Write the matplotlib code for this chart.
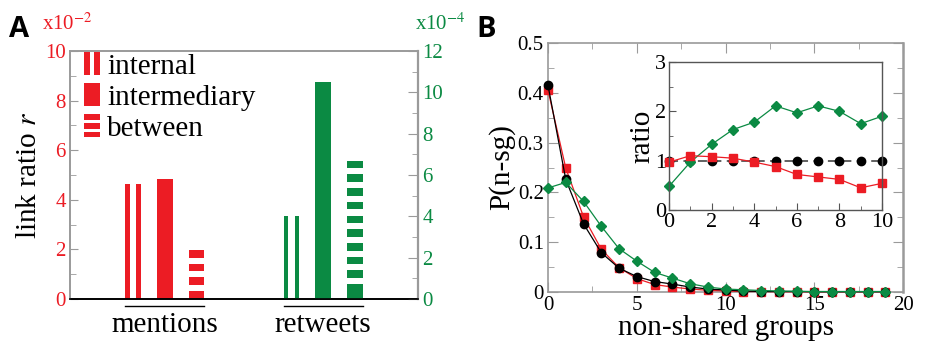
import numpy as np
import matplotlib
matplotlib.use('Agg')
import matplotlib.pyplot as plt
from matplotlib.patches import Rectangle
from matplotlib.legend_handler import HandlerBase
from matplotlib.ticker import MultipleLocator

plt.rcParams['font.family'] = ['Liberation Serif', 'DejaVu Serif']
plt.rcParams['mathtext.fontset'] = 'stix'

RED = '#ec1c24'
GREEN = '#0b8a43'
GRAY = '#9a9a9a'

# panel A: link ratio r
groups = ['mentions', 'retweets']
link_types = ['internal', 'intermediary', 'between']
styles = ['vert', 'solid', 'horiz']
mentions_r = [4.65, 4.83, 1.98]    # x10^-2
retweets_r = [4.02, 10.5, 6.69]    # x10^-4

# panel B: P(n-sg)
nsg = np.arange(20)
p_black = [0.415, 0.226, 0.137, 0.079, 0.048, 0.031, 0.021, 0.016, 0.010, 0.006,
           0.004, 0.002, 0.001, 0.001, 0.001, 0.0005, 0.0005, 0.0005, 0.0005, 0.0005]
p_red = [0.405, 0.249, 0.151, 0.086, 0.049, 0.027, 0.015, 0.010, 0.006, 0.0035,
         0.002, 0.001, 0.001, 0.0005, 0.0005, 0.0005, 0.0005, 0.0005, 0.0005, 0.0005]
p_green = [0.209, 0.220, 0.182, 0.132, 0.087, 0.062, 0.0395, 0.028, 0.0167, 0.010,
           0.006, 0.0045, 0.003, 0.002, 0.0015, 0.001, 0.001, 0.001, 0.001, 0.001]

# inset: ratio
ratio_x = np.arange(11)
ratio_black = [1.0] * 11
ratio_red = [0.97, 1.10, 1.08, 1.05, 0.97, 0.88, 0.72, 0.67, 0.62, 0.45, 0.54]
ratio_green = [0.48, 0.97, 1.33, 1.63, 1.78, 2.11, 1.97, 2.11, 2.00, 1.75, 1.90]


def draw_bar(ax, x, h, style, color, w=0.5):
    if style == 'solid':
        ax.bar(x, h, w, color=color, lw=0)
    elif style == 'vert':
        ax.bar([x - 0.35 * w, x + 0.35 * w], [h, h], 0.3 * w, color=color, lw=0)
    else:
        lo, hi = ax.get_ylim()
        period = 0.0552 * (hi - lo)
        top = h
        while top > 0:
            if top < 1.2 * period:
                ax.bar(x, top, w, color=color, lw=0)
                break
            ax.bar(x, 0.56 * period, w, bottom=top - 0.56 * period, color=color, lw=0)
            top -= period


class StripeHandler(HandlerBase):
    def __init__(self, style):
        super().__init__()
        self.style = style

    def create_artists(self, legend, orig_handle, xdescent, ydescent,
                       width, height, fontsize, trans):
        x0, y0 = -xdescent, -ydescent
        color = orig_handle.get_facecolor()
        if self.style == 'solid':
            pieces = [(x0, y0, width, height)]
        elif self.style == 'vert':
            s = 0.38 * width
            pieces = [(x0, y0, s, height), (x0 + width - s, y0, s, height)]
        else:
            s = 0.24 * height
            pieces = [(x0, y0 + k * (height - s) / 2, width, s) for k in range(3)]
        return [Rectangle((a, b), c, d, facecolor=color, edgecolor='none',
                          transform=trans) for a, b, c, d in pieces]


fig = plt.figure(figsize=(9.26, 3.48), dpi=100)

# ---------------- panel A
ax1 = fig.add_axes([0.0756, 0.1408, 0.3758, 0.7126])
ax1.set_xlim(0, 11)
ax1.set_ylim(0, 10)
ax2 = ax1.twinx()
ax2.set_ylim(0, 12)

pos_m = [2, 3, 4]
pos_r = [7, 8, 9]
for x, h, s in zip(pos_m, mentions_r, styles):
    draw_bar(ax1, x, h, s, RED)
for x, h, s in zip(pos_r, retweets_r, styles):
    draw_bar(ax2, x, h, s, GREEN)

for ax in (ax1, ax2):
    for side in ('left', 'top', 'right'):
        ax.spines[side].set_color(GRAY)
        ax.spines[side].set_linewidth(1.2)
    ax.spines['bottom'].set_color('k')
    ax.spines['bottom'].set_linewidth(1.2)
ax2.spines['right'].set_linewidth(1.6)

ax1.yaxis.set_major_locator(MultipleLocator(2))
ax1.yaxis.set_minor_locator(MultipleLocator(1))
ax1.tick_params(axis='y', which='both', direction='in', color=GRAY,
                labelcolor=RED, labelsize=15, pad=3, right=False)
ax1.tick_params(axis='y', which='major', length=6)
ax1.tick_params(axis='y', which='minor', length=4)
ax2.yaxis.set_major_locator(MultipleLocator(2))
ax2.yaxis.set_minor_locator(MultipleLocator(1))
ax2.tick_params(axis='y', which='both', direction='in', color=GRAY,
                labelcolor=GREEN, labelsize=15, pad=3)
ax2.tick_params(axis='y', which='major', length=7)
ax2.tick_params(axis='y', which='minor', length=4)

ax1.set_xticks([np.mean(pos_m), np.mean(pos_r)], groups)
ax1.tick_params(axis='x', length=0, labelsize=21, pad=9)
for pos in (pos_m, pos_r):
    ax1.plot([pos[0] - 0.25, pos[-1] + 0.25], [-0.03, -0.03], color='k', lw=1,
             transform=ax1.get_xaxis_transform(), clip_on=False)

ax1.set_ylabel('link ratio $r$', fontsize=21, labelpad=2)

handles = [Rectangle((0, 0), 1, 1, facecolor=RED) for _ in link_types]
ax2.legend(handles, link_types, loc='upper left', bbox_to_anchor=(0.04, 0.995),
           frameon=False, fontsize=21, handlelength=0.55, handleheight=0.83,
           handletextpad=0.25, labelspacing=0.12, borderpad=0, borderaxespad=0,
           handler_map={h: StripeHandler(s) for h, s in zip(handles, styles)})

fig.text(42 / 926, 1 - 30 / 348, r'x10$^{-2}$', color=RED, fontsize=15, va='baseline')
fig.text(415 / 926, 1 - 30 / 348, r'x10$^{-4}$', color=GREEN, fontsize=15, va='baseline')
fig.text(9 / 926, 1 - 15 / 348, 'A', fontsize=21, fontweight='bold',
         family='Open Sans', va='top')
fig.text(476 / 926, 1 - 15 / 348, 'B', fontsize=21, fontweight='bold',
         family='Open Sans', va='top')

# ---------------- panel B
axB = fig.add_axes([0.5918, 0.1609, 0.3834, 0.7155])
axB.plot(nsg, p_red, '-s', color=RED, ms=5.5, lw=0.9, clip_on=False, zorder=3)
axB.plot(nsg, p_black, '-o', color='k', ms=6, lw=0.9, clip_on=False, zorder=3)
axB.plot(nsg, p_green, '-D', color=GREEN, ms=5, lw=0.9, clip_on=False, zorder=3)
axB.set_xlim(0, 20)
axB.set_ylim(0, 0.5)
axB.xaxis.set_major_locator(MultipleLocator(5))
axB.xaxis.set_minor_locator(MultipleLocator(2.5))
axB.set_yticks(np.arange(0, 0.51, 0.1), ['0', '0.1', '0.2', '0.3', '0.4', '0.5'])
axB.yaxis.set_minor_locator(MultipleLocator(0.05))
axB.tick_params(which='both', direction='in', color=GRAY, top=True, right=True,
                labelsize=15, pad=3)
axB.tick_params(which='major', length=7)
axB.tick_params(which='minor', length=4)
for side in axB.spines:
    axB.spines[side].set_color(GRAY)
    axB.spines[side].set_linewidth(1.2)
axB.spines['right'].set_linewidth(1.8)
axB.set_xlabel('non-shared groups', fontsize=21, labelpad=0)
axB.set_ylabel('P(n-sg)', fontsize=21, labelpad=2)

# inset
axI = fig.add_axes([0.7225, 0.3966, 0.230, 0.4253])
axI.plot(ratio_x, ratio_black, '--', color='#555555', lw=1.3, dashes=(5, 3))
axI.plot(ratio_x, ratio_black, 'o', color='k', ms=6, clip_on=False)
axI.plot(ratio_x, ratio_green, '-D', color=GREEN, ms=5, lw=0.9, clip_on=False)
axI.plot(ratio_x, ratio_red, '-s', color=RED, ms=5.5, lw=0.9, clip_on=False)
axI.set_xlim(0, 10)
axI.set_ylim(0, 3)
axI.xaxis.set_major_locator(MultipleLocator(2))
axI.xaxis.set_minor_locator(MultipleLocator(1))
axI.yaxis.set_major_locator(MultipleLocator(1))
axI.yaxis.set_minor_locator(MultipleLocator(0.5))
axI.tick_params(which='both', direction='in', color='#555555', labelsize=16, pad=2)
axI.tick_params(which='major', length=5)
axI.tick_params(which='minor', length=3)
for side in axI.spines:
    axI.spines[side].set_color('#555555')
    axI.spines[side].set_linewidth(1.0)
axI.set_ylabel('ratio', fontsize=21, labelpad=0)

fig.savefig('out.png', dpi=100)
